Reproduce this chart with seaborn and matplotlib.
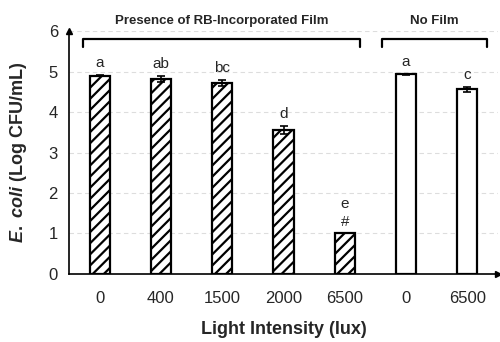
import numpy as np
import pandas as pd
import matplotlib
matplotlib.use("Agg")
import matplotlib.pyplot as plt
import seaborn as sns

categories = ["0", "400", "1500", "2000", "6500", "0 ", "6500 "]
tick_labels = ["0", "400", "1500", "2000", "6500", "0", "6500"]
values = [4.90, 4.82, 4.72, 3.55, 1.00, 4.93, 4.56]
errors = [0.02, 0.08, 0.08, 0.10, 0.00, 0.02, 0.06]
letters = ["a", "ab", "bc", "d", "e\n#", "a", "c"]
groups = ["film", "film", "film", "film", "film", "none", "none"]
group_titles = ["Presence of RB-Incorporated Film", "No Film"]

sns.set_theme(style="white")
plt.rcParams['font.family'] = ['Liberation Sans', 'DejaVu Sans']
plt.rcParams['hatch.linewidth'] = 1.6
plt.rcParams['mathtext.fontset'] = 'custom'
plt.rcParams['mathtext.it'] = 'Liberation Sans:bold:italic'
plt.rcParams['mathtext.rm'] = 'Liberation Sans:bold'

df = pd.DataFrame({"cat": categories, "val": values, "grp": groups})

fig = plt.figure(figsize=(5.0, 3.42), dpi=100)
ax = fig.add_axes([0.138, 0.199, 0.858, 0.710])

sns.barplot(data=df, x="cat", y="val", color="white", width=0.33,
            edgecolor="black", linewidth=1.6, ax=ax, errorbar=None, zorder=3)

for p, g in zip(ax.patches, groups):
    p.set_facecolor("white")
    if g == "film":
        p.set_hatch("///")

x = np.arange(len(categories))
ax.errorbar(x, values, yerr=errors, fmt="none", ecolor="black",
            elinewidth=1.2, capsize=3, capthick=1.2, zorder=4)

for xi, v, e, t in zip(x, values, errors, letters):
    ax.text(xi, v + e + 0.12, t, ha="center", va="bottom", fontsize=11,
            linespacing=1.3)

ax.set_xlim(-0.5, 6.5)
ax.set_ylim(0, 6)
ax.set_yticks(range(0, 7))
ax.set_yticklabels([str(i) for i in range(0, 7)], fontsize=12)
ax.yaxis.grid(True, linestyle=(0, (4, 3)), color="#dddddd", linewidth=0.8)
ax.set_axisbelow(True)

ax.set_xticks(x)
ax.set_xticklabels(tick_labels, fontsize=12)
ax.tick_params(axis="x", which="major", length=0, pad=12)
ax.set_xticks(np.arange(-0.5, 6.5, 1.0), minor=True)
ax.tick_params(axis="x", which="minor", length=5, width=1.2, color="black", direction="out")
ax.tick_params(axis="y", length=5, width=1.2, color="black", direction="out", pad=3)

for s in ["top", "right"]:
    ax.spines[s].set_visible(False)
for s in ["left", "bottom"]:
    ax.spines[s].set_color("black")
    ax.spines[s].set_linewidth(1.2)

# axis arrows
ax.plot(1, 0, ">", transform=ax.transAxes, color="black", markersize=4, clip_on=False)
ax.plot(0, 1.0, "^", transform=ax.transAxes, color="black", markersize=4, clip_on=False)

ax.set_xlabel("Light Intensity (lux)", fontsize=13, fontweight="bold", labelpad=11)
ax.set_ylabel(r"$\mathit{E.\ coli}$" + " (Log CFU/mL)", fontsize=13, fontweight="bold", labelpad=14)

# group brackets
bracket_y = 5.8
drop = 0.2
for (x0, x1), title in zip([(-0.27, 4.25), (4.6, 6.32)], group_titles):
    ax.plot([x0, x0, x1, x1], [bracket_y - drop, bracket_y, bracket_y, bracket_y - drop],
            color="black", linewidth=1.6, clip_on=False, zorder=5)
    ax.text((x0 + x1) / 2, 6.1, title, ha="center", va="bottom",
            fontsize=9.5, fontweight="bold")

fig.savefig("out.png", dpi=100)
